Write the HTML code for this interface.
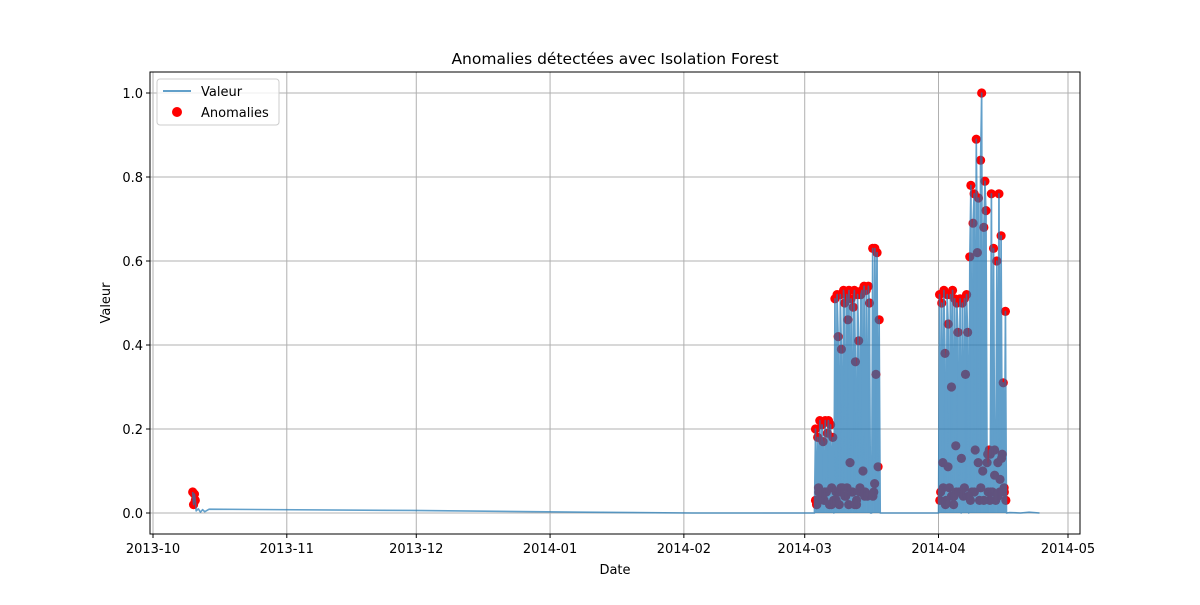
<!DOCTYPE html>
<html><head><meta charset="utf-8">
<style>
body{margin:0;background:#fff;font-family:"Liberation Sans","DejaVu Sans",sans-serif;}
svg text{font-family:"DejaVu Sans","Liberation Sans",sans-serif;}
</style></head>
<body>
<svg id="chart" width="1200" height="600">
<rect width="1200" height="600" fill="#fff"/>
<text x="615" y="64" text-anchor="middle" font-size="15.5">Anomalies détectées avec Isolation Forest</text>
<g id="grid"></g>
<g id="marks"></g>
<rect x="150" y="72" width="930" height="462" fill="none" stroke="#000" stroke-width="1"/>
<g id="ticks"></g>
<text x="615" y="574" text-anchor="middle" font-size="13">Date</text>
<text x="110" y="303" text-anchor="middle" font-size="13" transform="rotate(-90 110 303)">Valeur</text>
<g>
<rect x="157" y="79" width="122" height="46" rx="3" fill="#fff" fill-opacity="0.8" stroke="#ccc"/>
<g>
<line x1="163" y1="91" x2="191" y2="91" stroke="#1f77b4" stroke-opacity="0.7" stroke-width="2"/>
<text x="201" y="96" font-size="13">Valeur</text></g>
<g>
<circle cx="177" cy="112" r="5" fill="red"/>
<text x="201" y="117" font-size="13">Anomalies</text></g>
</g>
</svg>
<script>
// days since 2013-10-01
const xTickDays=[0,31,61,92,123,151,182,212];
const xTickLabels=["2013-10","2013-11","2013-12","2014-01","2014-02","2014-03","2014-04","2014-05"];
const yTicks=[0,0.2,0.4,0.6,0.8,1.0];
const yTickLabels=["0.0","0.2","0.4","0.6","0.8","1.0"];
// sparse segments: [day, value]
const octDays=[9.2,9.4,9.6,9.8,10.0,10.5,11,11.5,12,12.5,13,60,100,125,152.5];
const octValues=[0.05,0.02,0.045,0.03,0.005,0.01,0.002,0.008,0.003,0.006,0.009,0.006,0.002,0,0];
const marchStart=153.0, aprilStart=182.0, step=0.25;
const marchValues=[0,0,0.20,0.02,0.18,0.05,0.22,0.01,0.21,0.17,0.03,0.22,0.05,0.19,0.22,0.02,0.21,0.06,0.18,0,
0.51,0.05,0.52,0.42,0.02,0.52,0.39,0.06,0.53,0.50,0.04,0.52,0.46,0.53,0.12,0.51,0.05,0.49,0.53,0.36,0.02,0.52,0.41,0.05,0.52,0.53,0.10,0.54,0.05,0.53,0.04,0.54,0.50,
0,0,0.63,0.05,0.63,0.33,0.62,0.11,0.46,0];
const aprilValues=[0,0.52,0.05,0.50,0.12,0.53,0.38,0.03,0.52,0.45,0.06,0.52,0.30,0.53,0.02,0.51,0.16,0.50,0.43,0.05,0.51,0,
0.50,0.04,0.51,0.33,0.52,0.43,0,
0.61,0.78,0.05,0.69,0.76,0.15,0.89,0.62,0.75,0.03,0.84,1.00,0.10,0.68,0.79,0.72,
0.12,0.05,0.15,0.14,0.76,0.05,0.63,0.15,0.03,0.60,0.12,0.76,0.08,0.66,0.14,0.31,0.05,0.48,0];
const tailDays=[198.5,201,203,205.4];
const tailValues=[0.001,0.0,0.002,0.0];
const extraAnomDays=[153.5,154.2,155.1,156.0,157.2,158.3,158.9,159.4,160.3,161.2,162.1,163.0,163.8,164.5,166.8,167.2,182.3,183.1,184.2,185.0,186.1,187.3,188.0,188.9,190.3,191.2,192.5,193.4,194.1,195.0,195.8,196.6,197.2,197.6,153.8,155.6,157.7,160.8,162.6,164.9,183.6,185.6,189.4,191.8,193.9,196.2];
const extraAnomValues=[0.03,0.06,0.04,0.05,0.02,0.03,0.05,0.06,0.04,0.02,0.05,0.03,0.06,0.05,0.04,0.07,0.03,0.06,0.11,0.04,0.05,0.13,0.06,0.04,0.05,0.12,0.03,0.14,0.05,0.09,0.04,0.13,0.06,0.03,0.02,0.05,0.03,0.06,0.02,0.04,0.02,0.04,0.03,0.06,0.03,0.05];

const X=d=>153+d*4.316, Y=v=>513-v*420;
const NS="http://www.w3.org/2000/svg";
const grid=document.getElementById('grid'), ticks=document.getElementById('ticks'), marks=document.getElementById('marks');
function mk(tag,attrs,parent){const e=document.createElementNS(NS,tag);for(const k in attrs)e.setAttribute(k,attrs[k]);parent.appendChild(e);return e;}
xTickDays.forEach((d,i)=>{
 const gl=mk('line',{x1:X(d),x2:X(d),y1:72,y2:534,stroke:'#b0b0b0','stroke-width':1},grid);
 
 
 mk('line',{x1:X(d),x2:X(d),y1:534,y2:538,stroke:'#000'},ticks);
 const t=mk('text',{x:X(d),y:553,'text-anchor':'middle','font-size':13},ticks);
 t.textContent=xTickLabels[i];
 
 
});
yTicks.forEach((v,i)=>{
 const gl=mk('line',{x1:150,x2:1080,y1:Y(v),y2:Y(v),stroke:'#b0b0b0','stroke-width':1},grid);
 
 
 mk('line',{x1:146,x2:150,y1:Y(v),y2:Y(v),stroke:'#000'},ticks);
 const t=mk('text',{x:143,y:Y(v)+5,'text-anchor':'end','font-size':13},ticks);
 t.textContent=yTickLabels[i];
 
 
});
// build series
const pts=[];
octDays.forEach((d,i)=>pts.push([d,octValues[i]]));
marchValues.forEach((v,i)=>pts.push([marchStart+i*step,v]));
pts.push([170,0],[181.8,0]);
aprilValues.forEach((v,i)=>pts.push([aprilStart+i*step,v]));
tailDays.forEach((d,i)=>pts.push([d,tailValues[i]]));
// anomalies
const anom=pts.filter(p=>p[1]>0.01&&(p[0]<14||p[0]>150));
extraAnomDays.forEach((d,i)=>anom.push([d,extraAnomValues[i]]));
anom.forEach(p=>{
 const c=mk('circle',{cx:X(p[0]),cy:Y(p[1]),r:4.6,fill:'red'},marks);
 
 
});
const lineG=mk('g',{opacity:0.7},marks);


const w=step*4.316+0.4;
pts.filter(p=>p[0]>150&&p[1]>0).forEach(p=>{
 const r=mk('rect',{x:X(p[0])-w/2,y:Y(p[1]),width:w,height:Y(0)-Y(p[1]),fill:'#1f77b4'},lineG);
 
 
});
const path=mk('path',{d:'M'+pts.map(p=>X(p[0]).toFixed(2)+','+Y(p[1]).toFixed(2)).join('L'),fill:'none',stroke:'#1f77b4','stroke-width':1.6,'stroke-linejoin':'round'},lineG);


</script>
</body></html>
